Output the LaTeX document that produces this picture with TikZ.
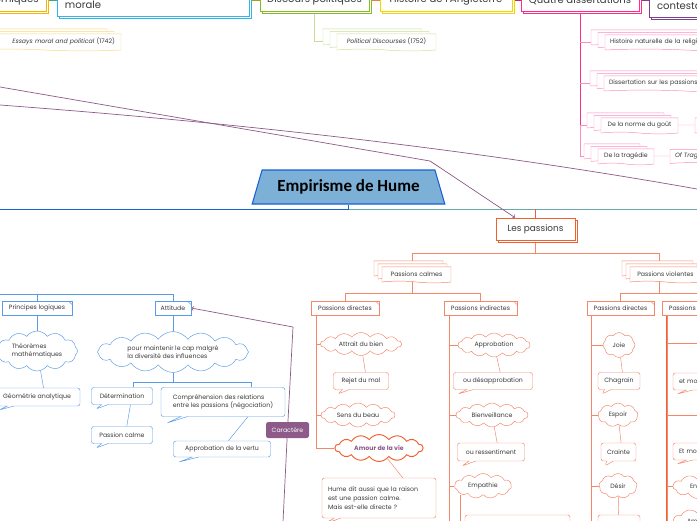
\documentclass[tikz,border=0pt]{standalone}
\usepackage{fontspec}
\setmainfont{Poppins}
\newfontfamily\titlefont{Carlito}
\usetikzlibrary{shapes.geometric,shapes.symbols,shapes.callouts,shadows,backgrounds}

\definecolor{textC}{HTML}{3A3A3A}
\definecolor{essaisC}{HTML}{F5B400}
\definecolor{essaisL}{HTML}{FCD77F}
\definecolor{moraleC}{HTML}{33B5E8}
\definecolor{discoursC}{HTML}{86BC25}
\definecolor{discoursL}{HTML}{C8E096}
\definecolor{histoireC}{HTML}{F2D600}
\definecolor{quatreC}{HTML}{FF2D87}
\definecolor{quatreL}{HTML}{FF8CC0}
\definecolor{contestC}{HTML}{7B3F8E}
\definecolor{caracC}{HTML}{8E5A8A}
\definecolor{titleFill}{HTML}{7DB0D6}
\definecolor{titleDraw}{HTML}{1A5FD6}
\definecolor{passC}{HTML}{F4866A}
\definecolor{passD}{HTML}{F0602F}
\definecolor{blueC}{HTML}{5A9BE6}
\definecolor{tealC}{HTML}{6AA7A8}

\newcommand\smallfs{\fontsize{5.3}{6.3}\selectfont}
\newcommand\midfs{\fontsize{7.6}{9}\selectfont}
\newcommand\topfs{\fontsize{8.6}{10}\selectfont}

\tikzset{
  sz/.style 2 args={minimum width=#1*0.03cm, minimum height=#2*0.03cm},
  topbox/.style={draw=#1, line width=0.7pt, fill=white, inner sep=0pt, text=textC, font=\topfs,
    copy shadow={shadow xshift=0.08cm, shadow yshift=-0.08cm, draw=#1, fill=white}},
  docplain/.style={tape, tape bend top=none, tape bend bottom=out and in, tape bend height=1.5pt,
    draw=#1, fill=white, inner sep=0pt, text=textC, font=\smallfs},
  docbox/.style={docplain=#1,
    copy shadow={shadow xshift=-0.42cm, shadow yshift=0.15cm, draw=#1, fill=white},
    copy shadow={shadow xshift=-0.21cm, shadow yshift=0.075cm, draw=#1, fill=white}},
  passdoc/.style={docplain=passC,
    copy shadow={shadow xshift=-0.24cm, shadow yshift=0.18cm, draw=passC, fill=white},
    copy shadow={shadow xshift=-0.12cm, shadow yshift=0.09cm, draw=passC, fill=white}},
  notebox/.style={draw=#1, fill=white, inner sep=0pt, text=textC, font=\smallfs,
    path picture={\draw[#1] (path picture bounding box.north east) ++(-3pt,0) -- ++(3pt,-3pt);}},
  cloudbox/.style={cloud, cloud puffs=14, cloud puff arc=110, cloud ignores aspect, draw=#1, fill=white,
    inner sep=0pt, text=textC, font=\smallfs},
  bubble/.style n args={3}{rectangle callout, rounded corners=2pt, draw=#1, fill=white,
    inner sep=0pt, text=textC, font=\smallfs, sz={#2}{#3}, callout pointer width=0.2cm},
  purpleline/.style={draw=caracC, line width=0.6pt},
}

\begin{document}
\begin{tikzpicture}[x=0.03cm, y=-0.03cm]
\useasboundingbox (0,0) rectangle (697,520);

% ouvrages
\node[topbox=essaisC, sz={84}{22}] (essais) at (4,0) {économiques};
\node[topbox=moraleC, sz={192}{22}, text width=5.28cm, align=left] (morale) at (153,5) {morale};
\node[topbox=discoursC, sz={109}{22}] (discours) at (314.5,0) {Discours politiques};
\node[topbox=histoireC, sz={132}{22}] (histoire) at (446,0) {Histoire de l'Angleterre};
\node[topbox=quatreC, sz={118}{22}] (quatre) at (580,0) {Quatre dissertations};
\node[topbox=contestC, sz={120}{22}, text width=3.12cm, align=left] (contest) at (709,6) {contestation};

\node[docbox=essaisL, sz={151}{17}, text width=4.17cm, align=right] (essays) at (45.5,41.5) {\textit{Essays moral and political} (1742)};
\node[docbox=discoursL, sz={99}{17}] (political) at (386.5,41.5) {\textit{Political Discourses} (1752)};
\node[docbox=quatreL, sz={160}{16}, text width=4.5cm, align=left] (histnat) at (685,42) {Histoire naturelle de la religion};
\node[docbox=quatreL, sz={160}{16}, text width=4.5cm, align=left] (dissert) at (684,83) {Dissertation sur les passions};
\node[docbox=quatreL, sz={77}{16}] (norme) at (639.5,125) {De la norme du goût};
\node[docbox=quatreL, sz={56}{16}] (tragedie) at (626,156) {De la tragédie};
\node[docplain=quatreL, sz={70}{16}] (standard) at (730,125) {};
\node[docplain=quatreL, sz={90}{15}, text width=2.4cm, align=left] (oftragedy) at (715,156) {\textit{Of Tragedy}};

% centre
\node[trapezium, trapezium stretches=true, trapezium left angle=69, trapezium right angle=69,
  minimum width=5.79cm, minimum height=1.02cm, fill=titleFill, draw=titleDraw, line width=0.9pt,
  font=\titlefont\bfseries\fontsize{14.5}{16}\selectfont] (title) at (348.5,187) {Empirisme de Hume};
\node[fill=caracC, rounded corners=2pt, text=white, font=\smallfs, inner sep=0pt, sz={43}{16}] (caractere) at (287.5,430) {Caractère};

% passions
\node[topbox=passD, sz={79}{22}, font=\midfs] (lespassions) at (535.5,229) {Les passions};
\node[passdoc, sz={69}{16}] (calmes) at (416.5,274) {Passions calmes};
\node[passdoc, sz={71}{16}] (violentes) at (665.5,274) {Passions violentes};
\node[notebox=passC, sz={68}{14}] (dirL) at (345,308) {Passions directes};
\node[notebox=passC, sz={73}{14}] (indir) at (480.5,308) {Passions indirectes};
\node[notebox=passC, sz={67}{14}] (dirR) at (620.5,308) {Passions directes};
\node[notebox=passC, sz={73}{14}] (passR) at (698.5,308) {Passions indirectes};

\node[cloudbox=passC, sz={81}{23}] (attrait) at (361,344) {Attrait du bien};
\node[bubble={passC}{55}{17}, callout absolute pointer={(338,394)}] (rejet) at (361,381) {Rejet du mal};
\node[cloudbox=passC, sz={74}{24}] (beau) at (358,415) {Sens du beau};
\node[cloudbox=passD, sz={88}{27}, line width=0.8pt, text=caracC, font=\smallfs\bfseries] (amour) at (379,448) {Amour de la vie};
\node[bubble={passC}{114}{40}, callout absolute pointer={(327,523)}, text width=3.06cm, align=left,
  font=\fontsize{5.3}{7.6}\selectfont] (hume) at (379,498) {Hume dit aussi que la raison\\est une passion calme.\\Mais est-elle directe ?};

\node[cloudbox=passC, sz={72}{24}] (approb) at (494,345) {Approbation};
\node[bubble={passC}{79}{17}, callout absolute pointer={(458,394)}] (desapprob) at (493,381) {ou désapprobation};
\node[cloudbox=passC, sz={72}{24}] (bienv) at (492,415) {Bienveillance};
\node[bubble={passC}{67}{18}, callout absolute pointer={(462,466)}] (ressent) at (491,452) {ou ressentiment};
\node[cloudbox=passC, sz={57}{25}, cloud puffs=11] (empathie) at (483,486) {Empathie};
\node[bubble={passC}{105}{35}, callout absolute pointer={(470,555)}] (extra1) at (517.5,532.5) {};

\node[cloudbox=passC, sz={32}{25}, cloud puffs=8] (joie) at (619,345) {Joie};
\node[bubble={passC}{42}{17}, callout absolute pointer={(602,394)}] (chagrain) at (619,381) {Chagrain};
\node[cloudbox=passC, sz={40}{24}, cloud puffs=9] (espoir) at (618,415) {Espoir};
\node[bubble={passC}{35}{18}, callout absolute pointer={(605,466)}] (crainte) at (618.5,452) {Crainte};
\node[cloudbox=passC, sz={38}{25}, cloud puffs=9] (desir) at (618,486) {Désir};
\node[bubble={passC}{42}{30}, callout absolute pointer={(603,552)}] (extra2) at (619,530) {};

\node[bubble={passC}{87}{17}, callout absolute pointer={(677,394)}, text width=2.25cm, align=left] (etmoA) at (716.5,381.5) {et mo};
\node[bubble={passC}{87}{17}, callout absolute pointer={(677,464)}, text width=2.25cm, align=left] (etmoB) at (716.5,451.5) {Et mo};
\node[cloudbox=passC, sz={67}{25}, cloud puffs=11, text width=0.99cm, align=left] (en) at (706.5,486.5) {En};
\node[cloudbox=passC, sz={67}{27}, cloud puffs=11, text width=1.17cm, align=left] (am) at (706.5,521.5) {Am};

% raison
\node[notebox=blueC, sz={70}{14}] (principes) at (37,308) {Principes logiques};
\node[notebox=blueC, sz={36}{14}] (attitude) at (173,308) {Attitude};
\node[cloudbox=blueC, sz={81}{40}, cloud puffs=12, align=left] (theoremes) at (37,351) {Théorèmes\\mathématiques};
\node[bubble={blueC}{86}{18}, callout absolute pointer={(-1,410)}] (geometrie) at (37,397) {Géométrie analytique};
\node[cloudbox=blueC, sz={151}{41}, cloud puffs=16, align=left] (cap) at (173,352) {pour maintenir le cap malgré\\la diversité des influences};
\node[bubble={blueC}{61}{17}, callout absolute pointer={(96,409)}] (determination) at (122,396) {Détermination};
\node[bubble={blueC}{124}{29}, callout absolute pointer={(167,423)}, align=left] (comprehension) at (223,402) {Compréhension des relations\\entre les passions (négociation)};
\node[bubble={blueC}{61}{17}, callout absolute pointer={(96,448)}] (passioncalme) at (122,435) {Passion calme};
\node[bubble={blueC}{97}{16}, callout absolute pointer={(179,462)}] (vertu) at (222,449) {Approbation de la vertu};

\coordinate (pa0) at (0,87);
\coordinate (pa1) at (430,161);
\coordinate (pb0) at (0,105);
\coordinate (pb1) at (697,189);
\coordinate (pc) at (293,327);
\coordinate (pd) at (283,522);
\coordinate (pe) at (320,525);
\coordinate (bl0) at (0,209);
\coordinate (tr0) at (697,209);
\coordinate (bt0) at (0,294);
\coordinate (vR1) at (700,343);
\coordinate (vR2) at (700,415);

\begin{scope}[on background layer]
\draw[color={rgb,255:red,61;green,165;blue,138}, line width=0.7pt] (essais.east |- 0,0) -- (morale.west |- 0,0);
\draw[color={rgb,255:red,168;green,156;blue,28}, line width=0.7pt] (morale.east |- 0,0) -- (discours.west |- 0,0);
\draw[color={rgb,255:red,232;green,132;blue,58}, line width=0.7pt] (discours.east |- 0,0) -- (histoire.west |- 0,0);
\draw[color={rgb,255:red,184;green,38;blue,126}, line width=0.7pt] (histoire.east |- 0,0) -- (quatre.west |- 0,0);
\draw[contestC, line width=0.7pt] (quatre.east |- 0,0) -- (contest.west |- 0,0);

\draw[discoursL] (discours.south) |- (political.west);
\draw[quatreC, line width=0.8pt] (quatre.south) -- (quatre.south |- norme.west);
\draw[quatreL] (quatre.south |- norme.west) -- (quatre.south |- tragedie.west);
\foreach \n in {histnat,dissert,norme,tragedie}
  \draw[quatreL] (quatre.south |- \n.west) -- (\n.west);
\draw[quatreL] (norme) -- (standard);
\draw[quatreL] (tragedie) -- (oftragedy);

\draw[titleDraw, line width=0.7pt] (bl0) -| (title.south);
\draw[tealC, line width=0.7pt] (title.south |- tr0) -- (tr0);
\draw[passD] (lespassions.north |- tr0) -- (lespassions.north);

\draw[purpleline, ->] (pa0) -- (pa1) -- (lespassions.north -| 515,0);
\draw[purpleline] (pb0) .. controls (200,120) and (450,145) .. (pb1);
\draw[purpleline, ->] (caractere) -- (pc) -- (attitude.east);
\draw[purpleline] (caractere) -- (pd);
\draw[purpleline, ->] (pe) -- (hume.south -| 336,0);

\draw[passC] (lespassions.south) -- ++(0,13) -| ([xshift=-0.12cm]calmes.north);
\draw[passC] (lespassions.south) -- ++(0,13) -| ([xshift=-0.18cm]violentes.north);
\draw[passC] ([xshift=-0.12cm]calmes.south) -- ++(0,12) -| (dirL);
\draw[passC] ([xshift=-0.12cm]calmes.south) -- ++(0,12) -| (indir);
\draw[passC] ([xshift=-0.18cm]violentes.south) -- ++(0,12) -| (dirR);
\draw[passC] ([xshift=-0.18cm]violentes.south) -- ++(0,12) -| (passR);

\draw[passC] (dirL.south -| 316,0) |- (attrait.west);
\draw[passC] (dirL.south -| 316,0) |- (beau.west);
\draw[passC] (dirL.south -| 316,0) |- (amour.west);
\draw[passC] (attrait) -- (rejet);
\draw[passC] (amour) -- (hume);

\draw[passC] (indir.south -| 449,0) |- (approb.west);
\draw[passC] (indir.south -| 449,0) |- (bienv.west);
\draw[passC] (indir.south -| 449,0) |- (empathie.west);
\draw[passC] (indir.south -| 449,0) -- (449,525);
\draw[passC] (approb) -- (desapprob);
\draw[passC] (bienv) -- (ressent);
\draw[passC] (empathie.south -| 460,0) |- (extra1.west);

\draw[passC] (dirR.south -| 591,0) |- (joie.west);
\draw[passC] (dirR.south -| 591,0) |- (espoir.west);
\draw[passC] (dirR.south -| 591,0) |- (desir.west);
\draw[passC] (dirR.south -| 591,0) -- (591,525);
\draw[passC] (joie) -- (chagrain);
\draw[passC] (espoir) -- (crainte);
\draw[passC] (desir) -- (extra2);

\draw[passD, line width=1.2pt] (passR.south -| 667,0) -- (667,525);
\draw[passC] (passR.south -| 667,0) |- (vR1);
\draw[passC] (passR.south -| 667,0) |- (vR2);
\draw[passC] (passR.south -| 667,0) |- (en.west);
\draw[passC] (passR.south -| 667,0) |- (am.west);

\draw[blueC] (bt0) -| (principes);
\draw[blueC] (bt0) -| (attitude);
\draw[blueC] (principes) -- (theoremes);
\draw[blueC] (theoremes) -- (geometrie);
\draw[blueC] (attitude) -- (cap);
\draw[blueC] (cap.south) -- ++(0,9) -| (determination);
\draw[blueC] (cap.south) -- ++(0,9) -| (comprehension);
\draw[blueC] (determination) -- (passioncalme);
\draw[blueC] (comprehension) -- (vertu);
\end{scope}

\end{tikzpicture}
\end{document}
